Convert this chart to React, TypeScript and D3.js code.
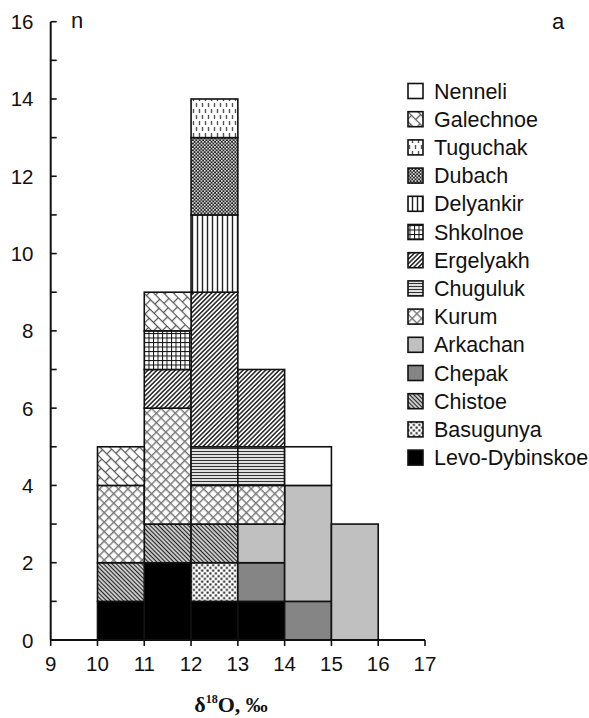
import React from 'react';
import * as d3 from 'd3';

// ---- data ----
const binStarts = [10, 11, 12, 13, 14, 15];
const legendOrder = [
  'Nenneli', 'Galechnoe', 'Tuguchak', 'Dubach', 'Delyankir', 'Shkolnoe', 'Ergelyakh',
  'Chuguluk', 'Kurum', 'Arkachan', 'Chepak', 'Chistoe', 'Basugunya', 'Levo-Dybinskoe',
];
const nenneli = [0, 0, 0, 0, 1, 0];
const galechnoe = [1, 1, 0, 0, 0, 0];
const tuguchak = [0, 0, 1, 0, 0, 0];
const dubach = [0, 0, 2, 0, 0, 0];
const delyankir = [0, 0, 2, 0, 0, 0];
const shkolnoe = [0, 1, 0, 0, 0, 0];
const ergelyakh = [0, 1, 4, 2, 0, 0];
const chuguluk = [0, 0, 1, 1, 0, 0];
const kurum = [2, 3, 1, 1, 0, 0];
const arkachan = [0, 0, 0, 1, 3, 3];
const chepak = [0, 0, 0, 1, 1, 0];
const chistoe = [1, 1, 1, 0, 0, 0];
const basugunya = [0, 0, 1, 0, 0, 0];
const levoDybinskoe = [1, 2, 1, 1, 0, 0];

const seriesValues: Record<string, number[]> = {
  Nenneli: nenneli,
  Galechnoe: galechnoe,
  Tuguchak: tuguchak,
  Dubach: dubach,
  Delyankir: delyankir,
  Shkolnoe: shkolnoe,
  Ergelyakh: ergelyakh,
  Chuguluk: chuguluk,
  Kurum: kurum,
  Arkachan: arkachan,
  Chepak: chepak,
  Chistoe: chistoe,
  Basugunya: basugunya,
  'Levo-Dybinskoe': levoDybinskoe,
};
const xTicks = [9, 10, 11, 12, 13, 14, 15, 16, 17];
const yTickLabels = [0, 2, 4, 6, 8, 10, 12, 14, 16];

const fillFor: Record<string, string> = {
  Nenneli: '#ffffff',
  Galechnoe: 'url(#pGalechnoe)',
  Tuguchak: 'url(#pTuguchak)',
  Dubach: 'url(#pDubach)',
  Delyankir: 'url(#pDelyankir)',
  Shkolnoe: 'url(#pShkolnoe)',
  Ergelyakh: 'url(#pErgelyakh)',
  Chuguluk: 'url(#pChuguluk)',
  Kurum: 'url(#pKurum)',
  Arkachan: '#c0c0c0',
  Chepak: '#858585',
  Chistoe: 'url(#pChistoe)',
  Basugunya: 'url(#pBasugunya)',
  'Levo-Dybinskoe': '#000000',
};

const W = 589;
const H = 718;
const SANS = 'Liberation Sans, Arial, sans-serif';
const SERIF = 'Liberation Serif, Times New Roman, serif';

export default function App() {
  const x = d3.scaleLinear().domain([9, 17]).range([50.7, 425]);
  const y = d3.scaleLinear().domain([0, 16]).range([640, 21.7]);

  const table = binStarts.map((b, i) => {
    const row: any = { bin: b };
    legendOrder.forEach((k) => (row[k] = seriesValues[k][i]));
    return row;
  });
  const stackKeys = [...legendOrder].reverse();
  const stacked = d3.stack<any>().keys(stackKeys)(table);

  const minorTicks = d3.range(0, 17, 1);
  const stroke = '#111';

  return (
    <svg width={W} height={H} style={{ position: 'absolute', left: 0, top: 0, background: '#fff' }}>
      <defs>
        <pattern id="pGalechnoe" patternUnits="userSpaceOnUse" width={12} height={14} patternTransform="rotate(45)">
          <rect width={12} height={14} fill="#fff" />
          <line x1={0} y1={0.5} x2={12} y2={0.5} stroke="#555" strokeWidth={1.3} />
          <line x1={0} y1={7.5} x2={12} y2={7.5} stroke="#555" strokeWidth={1.3} />
          <line x1={0.5} y1={0} x2={0.5} y2={7.5} stroke="#555" strokeWidth={1.3} />
          <line x1={6.5} y1={7.5} x2={6.5} y2={14} stroke="#555" strokeWidth={1.3} />
        </pattern>
        <pattern id="pTuguchak" patternUnits="userSpaceOnUse" width={6} height={12}>
          <rect width={6} height={12} fill="#fff" />
          <line x1={1.5} y1={1} x2={1.5} y2={5} stroke="#555" strokeWidth={1.4} />
          <line x1={4.5} y1={7} x2={4.5} y2={11} stroke="#555" strokeWidth={1.4} />
        </pattern>
        <pattern id="pDubach" patternUnits="userSpaceOnUse" width={3.4} height={3.4}>
          <rect width={3.4} height={3.4} fill="#222" />
          <rect x={0} y={0} width={1.5} height={1.5} fill="#fff" />
          <rect x={1.7} y={1.7} width={1.5} height={1.5} fill="#fff" />
        </pattern>
        <pattern id="pDelyankir" patternUnits="userSpaceOnUse" width={5} height={5}>
          <rect width={5} height={5} fill="#fff" />
          <line x1={2.5} y1={0} x2={2.5} y2={5} stroke="#222" strokeWidth={1.4} />
        </pattern>
        <pattern id="pShkolnoe" patternUnits="userSpaceOnUse" width={4.5} height={4.5}>
          <rect width={4.5} height={4.5} fill="#fff" />
          <line x1={0.5} y1={0} x2={0.5} y2={4.5} stroke="#111" strokeWidth={1} />
          <line x1={0} y1={0.5} x2={4.5} y2={0.5} stroke="#111" strokeWidth={1} />
        </pattern>
        <pattern id="pErgelyakh" patternUnits="userSpaceOnUse" width={3.2} height={3.2} patternTransform="rotate(45)">
          <rect width={3.2} height={3.2} fill="#fff" />
          <line x1={1.6} y1={0} x2={1.6} y2={3.2} stroke="#222" strokeWidth={1.5} />
        </pattern>
        <pattern id="pChistoe" patternUnits="userSpaceOnUse" width={3} height={3} patternTransform="rotate(45)">
          <rect width={3} height={3} fill="#fff" />
          <line x1={0} y1={1.5} x2={3} y2={1.5} stroke="#222" strokeWidth={1.5} />
        </pattern>
        <pattern id="pChuguluk" patternUnits="userSpaceOnUse" width={3} height={3}>
          <rect width={3} height={3} fill="#fff" />
          <line x1={0} y1={1.5} x2={3} y2={1.5} stroke="#333" strokeWidth={1.3} />
        </pattern>
        <pattern id="pKurum" patternUnits="userSpaceOnUse" width={6.7} height={6.7} patternTransform="rotate(45)">
          <rect width={6.7} height={6.7} fill="#fff" />
          <line x1={0.7} y1={0} x2={0.7} y2={6.7} stroke="#777" strokeWidth={1.4} />
          <line x1={0} y1={0.7} x2={6.7} y2={0.7} stroke="#777" strokeWidth={1.4} />
        </pattern>
        <pattern id="pBasugunya" patternUnits="userSpaceOnUse" width={5.5} height={5.5}>
          <rect width={5.5} height={5.5} fill="#fff" />
          <rect x={0.4} y={0.4} width={2} height={2} fill="#111" />
          <rect x={3.15} y={3.15} width={2} height={2} fill="#111" />
        </pattern>
      </defs>

      {/* bars */}
      <g>
        {stacked.map((layer) => (
          <g key={layer.key}>
            {layer.map((d, i) =>
              d[1] - d[0] > 0 ? (
                <rect
                  key={i}
                  x={x(binStarts[i])}
                  y={y(d[1])}
                  width={x(binStarts[i] + 1) - x(binStarts[i])}
                  height={y(d[0]) - y(d[1])}
                  fill={fillFor[layer.key as string]}
                  stroke={stroke}
                  strokeWidth={1.6}
                />
              ) : null
            )}
          </g>
        ))}
      </g>

      {/* y axis */}
      <line x1={x(9)} y1={y(0)} x2={x(9)} y2={y(16)} stroke={stroke} strokeWidth={2} />
      {minorTicks.map((t) => (
        <line key={t} x1={x(9)} y1={y(t)} x2={x(9) + 6} y2={y(t)} stroke={stroke} strokeWidth={1.6} />
      ))}
      {yTickLabels.map((t) => (
        <text key={t} x={33.5} y={y(t) + 7.5} textAnchor="end" fontFamily={SANS} fontSize={20.5} fill="#111">
          {t}
        </text>
      ))}

      {/* x axis */}
      <line x1={x(9)} y1={y(0)} x2={x(17)} y2={y(0)} stroke={stroke} strokeWidth={2} />
      {xTicks.map((t) => (
        <line key={t} x1={x(t)} y1={y(0)} x2={x(t)} y2={y(0) + 6} stroke={stroke} strokeWidth={1.6} />
      ))}
      {xTicks.map((t) => (
        <text key={t} x={x(t)} y={671} textAnchor="middle" fontFamily={SANS} fontSize={20.5} fill="#111">
          {t}
        </text>
      ))}

      <text x={231} y={712} textAnchor="middle" fontFamily={SERIF} fontWeight="bold" fontSize={22} fill="#111">
        δ<tspan fontSize={12} dy={-9}>18</tspan>
        <tspan dy={9}>O, ‰</tspan>
      </text>

      <text x={71} y={28} fontFamily={SANS} fontSize={22} fill="#111">n</text>
      <text x={552} y={29} fontFamily={SANS} fontSize={22} fill="#111">a</text>

      {/* legend */}
      {legendOrder.map((k, i) => {
        const cy = 91 + i * 28.2;
        return (
          <g key={k}>
            <rect x={408} y={cy - 7.5} width={15} height={15} fill={fillFor[k]} stroke={stroke} strokeWidth={1.6} />
            <text x={434} y={cy + 7.5} fontFamily={SANS} fontSize={21.5} fill="#111">
              {k}
            </text>
          </g>
        );
      })}
    </svg>
  );
}
